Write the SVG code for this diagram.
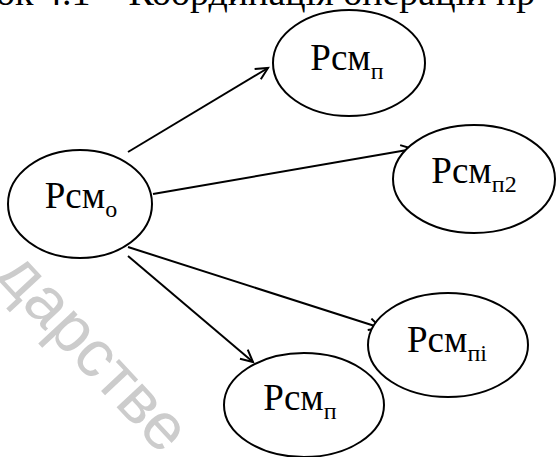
<svg xmlns="http://www.w3.org/2000/svg" width="556" height="457" viewBox="0 0 556 457">
<defs>
<marker id="arr" markerWidth="16" markerHeight="16" refX="13" refY="7" orient="auto" markerUnits="userSpaceOnUse">
<path d="M1,1 L13,7 L1,13" fill="none" stroke="#000" stroke-width="2"/>
</marker>
<style>
.node ellipse{fill:#fff;stroke:#000;stroke-width:2}
.lbl{font-family:"Liberation Serif","Times New Roman",serif;font-size:37px;fill:#000;text-anchor:middle}
.sub{font-size:24px}
.edge{stroke:#000;stroke-width:2;fill:none;marker-end:url(#arr)}
.cap{font-family:"Liberation Serif","Times New Roman",serif;font-size:38px;fill:#000}
.wm{font-family:"Liberation Sans",Arial,sans-serif;font-size:66px;fill:#cccccc}
</style>
</defs>
<rect width="556" height="457" fill="#fff"/>
<text class="wm" transform="translate(-6,276) rotate(47)">дарстве</text>
<text class="cap" x="-4" y="5">ок 4.1 – Координація операцій пр</text>
<g id="connectors">
<line class="edge" x1="128" y1="152" x2="268" y2="68"/>
<line class="edge" x1="153" y1="194" x2="413" y2="149"/>
<line class="edge" x1="128" y1="247" x2="381" y2="328"/>
<line class="edge" x1="128" y1="256" x2="253" y2="362"/>
</g>
<g id="n_o" class="node">
<ellipse cx="80" cy="204" rx="72" ry="54"/>
<text class="lbl" x="81" y="208">Рсм<tspan class="sub" dy="9">о</tspan></text>
</g>
<g id="n_p1" class="node">
<ellipse cx="349" cy="63" rx="76" ry="53"/>
<text class="lbl" x="347" y="70">Рсм<tspan class="sub" dy="9">п</tspan></text>
</g>
<g id="n_p2" class="node">
<ellipse cx="474" cy="179" rx="81" ry="54"/>
<text class="lbl" x="474" y="183">Рсм<tspan class="sub" dy="9">п2</tspan></text>
</g>
<g id="n_pi" class="node">
<ellipse cx="448" cy="345" rx="80" ry="52"/>
<text class="lbl" x="447" y="352">Рсм<tspan class="sub" dy="9">пі</tspan></text>
</g>
<g id="n_p3" class="node">
<ellipse cx="304" cy="405" rx="80" ry="52"/>
<text class="lbl" x="300" y="410">Рсм<tspan class="sub" dy="9">п</tspan></text>
</g>
</svg>
